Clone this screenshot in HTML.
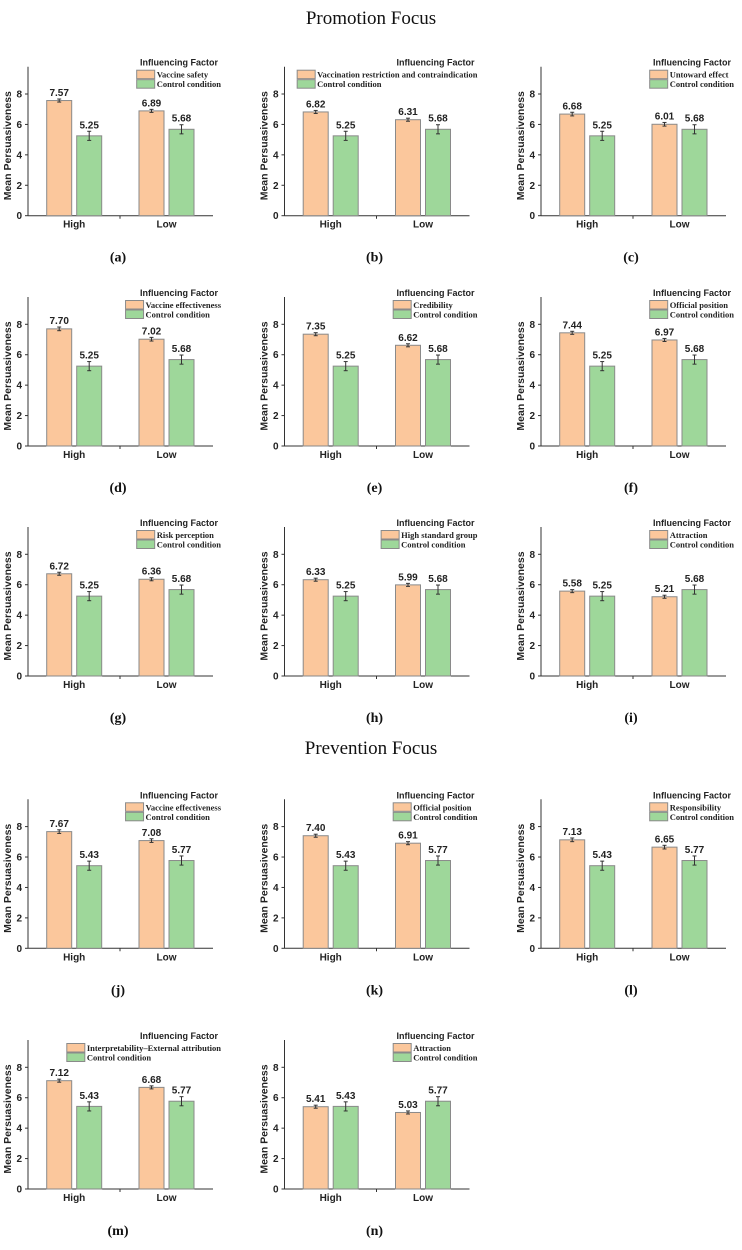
<!DOCTYPE html>
<html><head><meta charset="utf-8">
<style>
html,body{margin:0;padding:0;background:#fff;}
svg{display:block;}
.tk{font-family:"Liberation Sans",sans-serif;font-weight:bold;font-size:10px;fill:#222;}
.yt{font-family:"Liberation Sans",sans-serif;font-weight:bold;font-size:10.5px;fill:#222;}
.val{font-family:"Liberation Sans",sans-serif;font-weight:bold;font-size:10px;fill:#222;}
.lt{font-family:"Liberation Sans",sans-serif;font-weight:bold;font-size:9px;fill:#222;}
.lg{font-family:"Liberation Serif",serif;font-weight:bold;font-size:8.5px;fill:#222;}
.cap{font-family:"Liberation Serif",serif;font-weight:bold;font-size:14px;fill:#111;}
.ttl{font-family:"Liberation Serif",serif;font-size:19px;fill:#111;}
</style></head>
<body>
<svg id="chart" width="742" height="1250" viewBox="0 0 742 1250">
<text class="ttl" x="371" y="24" text-anchor="middle">Promotion Focus</text>
<text class="ttl" x="371" y="754" text-anchor="middle">Prevention Focus</text>
</svg>
<script>
const panelLabels = ["(a)","(b)","(c)","(d)","(e)","(f)","(g)","(h)","(i)","(j)","(k)","(l)","(m)","(n)"];
const factorNames = ["Vaccine safety","Vaccination restriction and contraindication","Untoward effect","Vaccine effectiveness","Credibility","Official position","Risk perception","High standard group","Attraction","Vaccine effectiveness","Official position","Responsibility","Interpretability\u2013External attribution","Attraction"];
const categories = ["High","Low"];
const factorHigh = [7.57,6.82,6.68,7.70,7.35,7.44,6.72,6.33,5.58,7.67,7.40,7.13,7.12,5.41];
const factorLow  = [6.89,6.31,6.01,7.02,6.62,6.97,6.36,5.99,5.21,7.08,6.91,6.65,6.68,5.03];
const controlHigh = [5.25,5.25,5.25,5.25,5.25,5.25,5.25,5.25,5.25,5.43,5.43,5.43,5.43,5.43];
const controlLow  = [5.68,5.68,5.68,5.68,5.68,5.68,5.68,5.68,5.68,5.77,5.77,5.77,5.77,5.77];
const factorErr = [0.1,0.1,0.12,0.12,0.1,0.1,0.1,0.1,0.1,0.12,0.1,0.12,0.1,0.1];
const controlErr = [0.3,0.3,0.3,0.3,0.3,0.3,0.3,0.3,0.3,0.3,0.3,0.3,0.3,0.3];
const yTicks = [0,2,4,6,8];

const svg = document.getElementById('chart');
const NS = 'http://www.w3.org/2000/svg';
const colX = [28,284.5,541];
const rowZero = [215.7,446,676,948.3,1189];
const pxPerUnit = 121.7/8;
const axisW = 185;

function mk(tag, attrs, parent){
  const e = document.createElementNS(NS, tag);
  for (const k in attrs) e.setAttribute(k, attrs[k]);
  (parent||svg).appendChild(e);
  return e;
}

for (let p = 0; p < panelLabels.length; p++) {
  const ax = colX[p % 3];
  const z = rowZero[Math.floor(p / 3)];
  const yS = v => z - v * pxPerUnit;
  const g = mk('g', {});
  
  

  const ya = mk('line', {x1:ax, y1:z, x2:ax, y2:z-149, stroke:'#333', 'stroke-width':1}, g);
  
  
  const xa = mk('line', {x1:ax, y1:z, x2:ax+axisW, y2:z, stroke:'#333', 'stroke-width':1}, g);
  
  
  mk('line', {x1:ax+92, y1:z, x2:ax+92, y2:z+3, stroke:'#333'}, g);
  for (const t of yTicks) {
    mk('line', {x1:ax-3, y1:yS(t), x2:ax, y2:yS(t), stroke:'#333'}, g);
    const tl = mk('text', {x:ax-6, y:yS(t)+3.5, 'text-anchor':'end', class:'tk'}, g);
    tl.textContent = t;
    
    
  }
  const yt = mk('text', {x:0, y:0, 'text-anchor':'middle', class:'yt', transform:`translate(${ax-17},${z-70}) rotate(-90)`}, g);
  yt.textContent = 'Mean Persuasiveness';
  
  

  const groups = [[factorHigh[p], controlHigh[p]], [factorLow[p], controlLow[p]]];
  const starts = [ax+18.7, ax+111];
  for (let c = 0; c < 2; c++) {
    const cl = mk('text', {x:starts[c]+27.5, y:z+12, 'text-anchor':'middle', class:'tk'}, g);
    cl.textContent = categories[c];
    
    
    for (let s = 0; s < 2; s++) {
      const v = groups[c][s];
      const err = s === 0 ? factorErr[p] : controlErr[p];
      const x0 = starts[c] + s*30;
      const b = mk('rect', {x:x0, y:yS(v), width:25, height:z-yS(v), fill: s===0 ? '#fbc79c' : '#9ed79a', stroke:'#8a8a8a', 'stroke-width':1}, g);
      
      
      const cx = x0 + 12.5;
      mk('line', {x1:cx, y1:yS(v+err), x2:cx, y2:yS(v-err), stroke:'#333'}, g);
      mk('line', {x1:cx-2, y1:yS(v+err), x2:cx+2, y2:yS(v+err), stroke:'#333'}, g);
      mk('line', {x1:cx-2, y1:yS(v-err), x2:cx+2, y2:yS(v-err), stroke:'#333'}, g);
      const vl = mk('text', {x:cx, y:yS(v+err)-3, 'text-anchor':'middle', class:'val'}, g);
      vl.textContent = v.toFixed(2);
      
      
    }
  }

  const lt = mk('text', {x:ax+190, y:z-150, 'text-anchor':'end', class:'lt'}, g);
  lt.textContent = 'Influencing Factor';
  
  
  const names = [factorNames[p], 'Control condition'];
  const t1 = mk('text', {x:0, y:z-138, class:'lg'}, g);
  t1.textContent = names[0];
  const w1 = t1.getComputedTextLength();
  const t2 = mk('text', {x:0, y:z-128.5, class:'lg'}, g);
  t2.textContent = names[1];
  const w2 = t2.getComputedTextLength();
  const textX = ax + 193 - Math.max(w1, w2);
  t1.setAttribute('x', textX); t2.setAttribute('x', textX);
  
  
  
  
  mk('rect', {x:textX-20, y:z-145.5, width:18, height:8.5, fill:'#fbc79c', stroke:'#8a8a8a'}, g);
  mk('rect', {x:textX-20, y:z-136, width:18, height:8.5, fill:'#9ed79a', stroke:'#8a8a8a'}, g);

  const cap = mk('text', {x:ax+90, y:z+46, 'text-anchor':'middle', class:'cap'}, g);
  cap.textContent = panelLabels[p];
  
  
}
</script>
</body></html>
